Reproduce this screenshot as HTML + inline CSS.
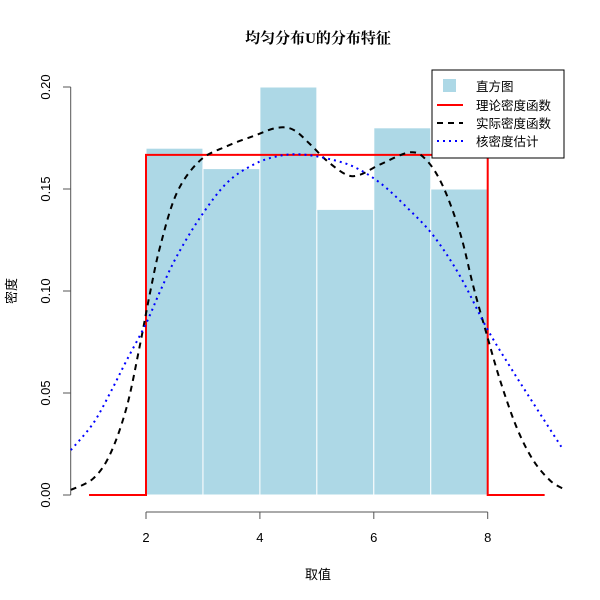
<!DOCTYPE html>
<html><head><meta charset="utf-8">
<style>
html,body{margin:0;padding:0;background:#fff;}
svg{display:block;font-family:"Liberation Sans","Noto Sans CJK SC",sans-serif;}
</style></head>
<body>
<svg id="chart" width="600" height="600" viewBox="0 0 600 600">
<text x="318" y="43" text-anchor="middle" font-size="15" font-weight="bold" fill="#000" font-family="'Liberation Serif','Noto Serif CJK SC',serif">均匀分布U的分布特征</text>
<text x="318" y="579" text-anchor="middle" font-size="13" fill="#000">取值</text>
<text transform="translate(16,291) rotate(-90)" text-anchor="middle" font-size="13" fill="#000">密度</text>
<g id="bars"></g>
<g id="axes"></g>
<g id="lines"></g>
<g>
<rect x="432" y="70" width="132" height="88" fill="#fff" stroke="#000" stroke-width="1"/>
<rect x="443" y="79" width="13" height="13" fill="#add8e6"/>
<text x="476" y="91" font-size="12.5" fill="#000">直方图</text>
<line x1="437" y1="105" x2="463" y2="105" stroke="#f00" stroke-width="2"/>
<text x="476" y="110" font-size="12.5" fill="#000">理论密度函数</text>
<line x1="437" y1="123" x2="463" y2="123" stroke="#000" stroke-width="2" stroke-dasharray="6,5"/>
<text x="476" y="128" font-size="12.5" fill="#000">实际密度函数</text>
<line x1="437" y1="141" x2="463" y2="141" stroke="#00f" stroke-width="2" stroke-dasharray="2,4"/>
<text x="476" y="146" font-size="12.5" fill="#000">核密度估计</text>
</g>
</svg>
<script>
const binEdges = [2,3,4,5,6,7,8];
const binDensity = [0.17,0.16,0.20,0.14,0.18,0.15];
const xTicks = [2,4,6,8];
const yTicks = [0,0.05,0.10,0.15,0.20];
const yTickLabels = ["0.00","0.05","0.10","0.15","0.20"];
const theoryX = [1,2,2,8,8,9];
const theoryY = [0,0,0.1667,0.1667,0,0];
const actualX = [0.68,1.07,1.37,1.66,1.89,2.07,2.25,2.54,2.95,3.42,3.89,4.30,4.59,4.88,5.17,5.52,5.76,6.11,6.64,6.93,7.22,7.52,7.75,7.98,8.22,8.51,8.80,9.10,9.33];
const actualY = [0.0025,0.008,0.020,0.043,0.073,0.099,0.122,0.148,0.164,0.171,0.176,0.180,0.179,0.172,0.164,0.157,0.157,0.162,0.168,0.164,0.151,0.128,0.102,0.079,0.056,0.033,0.017,0.007,0.003];
const kdeX = [0.68,1.07,1.37,1.66,2.0,2.25,2.54,2.95,3.42,3.89,4.30,4.70,5.17,5.64,6.11,6.58,7.05,7.52,7.98,8.39,8.80,9.33];
const kdeY = [0.022,0.035,0.050,0.066,0.084,0.100,0.117,0.136,0.153,0.162,0.166,0.167,0.165,0.161,0.153,0.141,0.127,0.107,0.082,0.063,0.045,0.022];

const NS='http://www.w3.org/2000/svg';
const X0=70.7, X1=563.3, XMIN=0.68, XMAX=9.33;
function sx(v){return 146+(v-2)*(341.7/6);}
function sy(v){return 495-v*(408/0.2);}
function mk(tag,attrs,parent){const e=document.createElementNS(NS,tag);for(const k in attrs)e.setAttribute(k,attrs[k]);parent.appendChild(e);return e;}

const bars=document.getElementById('bars');
for(let i=0;i<binDensity.length;i++){
  const r=mk('rect',{x:sx(binEdges[i]),y:sy(binDensity[i]),width:sx(binEdges[i+1])-sx(binEdges[i]),height:sy(0)-sy(binDensity[i]),fill:'#add8e6',stroke:'#fff','stroke-width':1},bars);
  
  
}

const axes=document.getElementById('axes');
const xl=mk('line',{x1:sx(xTicks[0]),y1:512,x2:sx(xTicks[xTicks.length-1]),y2:512,stroke:'#555','stroke-width':1},axes);


xTicks.forEach(t=>{
  const tk=mk('line',{x1:sx(t),y1:512,x2:sx(t),y2:519,stroke:'#555','stroke-width':1},axes);
  
  
  const tx=mk('text',{x:sx(t),y:542,'text-anchor':'middle','font-size':13,fill:'#000'},axes);
  tx.textContent=String(t);
  
  
});
const yl=mk('line',{x1:70.7,y1:sy(yTicks[0]),x2:70.7,y2:sy(yTicks[yTicks.length-1]),stroke:'#555','stroke-width':1},axes);


yTicks.forEach((t,i)=>{
  const tk=mk('line',{x1:63,y1:sy(t),x2:70.7,y2:sy(t),stroke:'#555','stroke-width':1},axes);
  
  
  const tx=mk('text',{transform:'translate(50,'+sy(t)+') rotate(-90)','text-anchor':'middle','font-size':13,fill:'#000'},axes);
  tx.textContent=yTickLabels[i];
  
  
});

function smoothPath(xs,ys){
  const p=xs.map((x,i)=>[sx(x),sy(ys[i])]);
  let d='M'+p[0][0]+','+p[0][1];
  for(let i=0;i<p.length-1;i++){
    const p0=p[i-1]||p[i],p1=p[i],p2=p[i+1],p3=p[i+2]||p2;
    const c1=[p1[0]+(p2[0]-p0[0])/6,p1[1]+(p2[1]-p0[1])/6];
    const c2=[p2[0]-(p3[0]-p1[0])/6,p2[1]-(p3[1]-p1[1])/6];
    d+=' C'+c1[0]+','+c1[1]+' '+c2[0]+','+c2[1]+' '+p2[0]+','+p2[1];
  }
  return d;
}
const lines=document.getElementById('lines');
const th=mk('polyline',{points:theoryX.map((x,i)=>sx(x)+','+sy(theoryY[i])).join(' '),fill:'none',stroke:'#f00','stroke-width':2},lines);


const ac=mk('path',{d:smoothPath(actualX,actualY),fill:'none',stroke:'#000','stroke-width':2,'stroke-dasharray':'6,5'},lines);


const kd=mk('path',{d:smoothPath(kdeX,kdeY),fill:'none',stroke:'#00f','stroke-width':2,'stroke-dasharray':'2,4'},lines);


</script>
</body></html>
